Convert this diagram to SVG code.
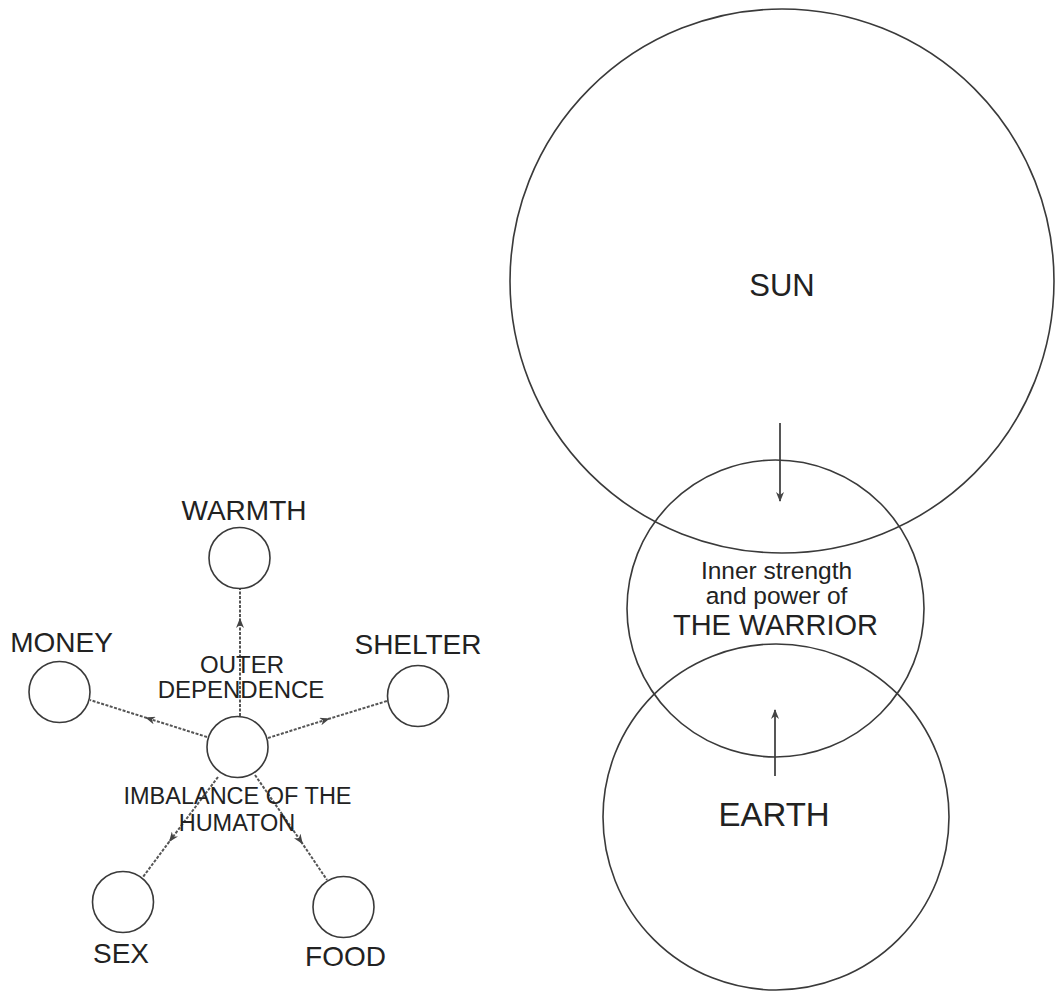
<svg xmlns="http://www.w3.org/2000/svg" width="1056" height="991" viewBox="0 0 1056 991">
<style>
.c{fill:none;stroke:#3a3a3a;stroke-width:1.6}
.t{font-family:"Liberation Sans",Arial,sans-serif;fill:#222;text-anchor:middle}
.d{fill:none;stroke:#555;stroke-width:2;stroke-dasharray:3 1.5}
.s{fill:none;stroke:#444;stroke-width:1.8}
</style>
<defs>
<marker id="ah" viewBox="0 0 10 8" refX="5" refY="4" markerWidth="10" markerHeight="8" markerUnits="userSpaceOnUse" orient="auto">
<path d="M0,0 L10,4 L0,8 L3,4 z" fill="#444"/>
</marker>
<marker id="ae" viewBox="0 0 10 8" refX="9" refY="4" markerWidth="10" markerHeight="8" markerUnits="userSpaceOnUse" orient="auto">
<path d="M0,0 L10,4 L0,8 L3,4 z" fill="#444"/>
</marker>
</defs>
<rect width="1056" height="991" fill="#fff"/>
<g id="connectors">
<polyline class="d" points="240,716 240,623 240,588" marker-mid="url(#ah)"/>
<polyline class="d" points="207,737 150,719 90,700" marker-mid="url(#ah)"/>
<polyline class="d" points="268,738 325,720 387,701" marker-mid="url(#ah)"/>
<polyline class="d" points="218,777 172,838 143,877" marker-mid="url(#ah)"/>
<polyline class="d" points="255,775 300,840 327,880" marker-mid="url(#ah)"/>
<line class="s" x1="780" y1="423" x2="780" y2="501" marker-end="url(#ae)"/>
<line class="s" x1="775" y1="776" x2="775" y2="710" marker-end="url(#ae)"/>
</g>
<g id="warmth"><circle class="c" cx="239.5" cy="558" r="30.5"/><text class="t" x="244" y="520" font-size="28">WARMTH</text></g>
<g id="money"><circle class="c" cx="59.5" cy="692" r="30.5"/><text class="t" x="61.5" y="652" font-size="28">MONEY</text></g>
<g id="shelter"><circle class="c" cx="418" cy="696" r="30.5"/><text class="t" x="418" y="654" font-size="28">SHELTER</text></g>
<g id="center"><circle class="c" cx="237.5" cy="747" r="30.5"/>
<text class="t" x="242" y="673" font-size="24">OUTER</text>
<text class="t" x="241" y="698" font-size="24">DEPENDENCE</text>
<text class="t" x="237.5" y="804" font-size="23.5">IMBALANCE OF THE</text>
<text class="t" x="237" y="831" font-size="23.5">HUMATON</text></g>
<g id="sex"><circle class="c" cx="123" cy="902" r="30.5"/><text class="t" x="121" y="963" font-size="28">SEX</text></g>
<g id="food"><circle class="c" cx="343.5" cy="907" r="30.5"/><text class="t" x="345.5" y="966" font-size="28">FOOD</text></g>
<g id="sun"><circle class="c" cx="782" cy="281" r="272"/><text class="t" x="782" y="296" font-size="31">SUN</text></g>
<g id="warrior"><circle class="c" cx="775.5" cy="608.5" r="148.5"/>
<text class="t" x="776.5" y="579" font-size="24.5">Inner strength</text>
<text class="t" x="776.5" y="604" font-size="24.5">and power of</text>
<text class="t" x="775.5" y="635" font-size="29">THE WARRIOR</text></g>
<g id="earth"><circle class="c" cx="776" cy="817" r="173"/><text class="t" x="774" y="826" font-size="33">EARTH</text></g>
</svg>
